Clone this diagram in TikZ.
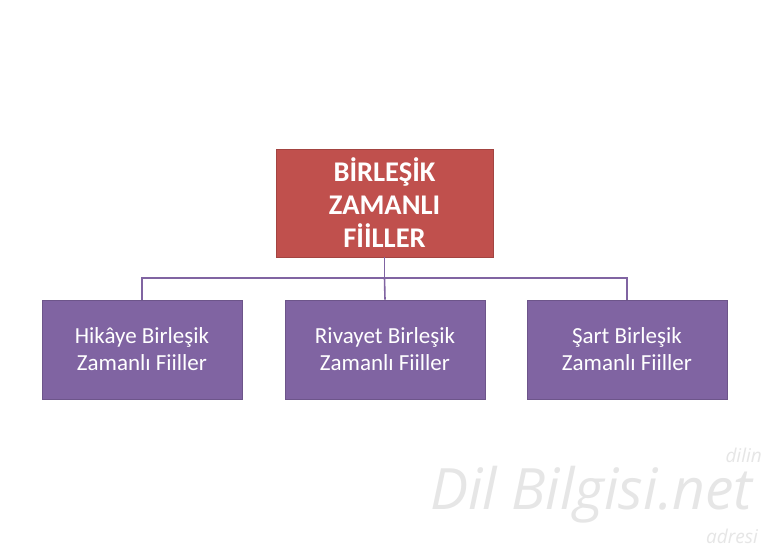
\documentclass[tikz,border=0pt]{standalone}
\usepackage{fontspec}
\setmainfont{Carlito}
\newfontfamily\wmfont{Open Sans}
\definecolor{topred}{HTML}{C0504D}
\definecolor{subpurple}{HTML}{8064A2}
\definecolor{wmgray}{HTML}{E6E6E6}
\begin{document}
\begin{tikzpicture}[x=1pt,y=-1pt,
  topbox/.style={fill=topred,draw=topred!85!black,line width=0.6pt,minimum width=217pt,minimum height=108pt,
    text=white,font=\fontsize{28.5}{33}\selectfont\bfseries,align=center,inner sep=0pt},
  subbox/.style={fill=subpurple,draw=subpurple!85!black,line width=0.6pt,minimum width=200pt,minimum height=99pt,
    text=white,font=\fontsize{23}{27}\selectfont,align=center,inner sep=0pt},
  conn/.style={draw=subpurple,line width=1.6pt},
  wm/.style={text=wmgray,inner sep=0pt}]
\useasboundingbox (0,0) rectangle (770,550);
\fill[white] (0,0) rectangle (770,550);
\node[topbox] (top) at (384.5,203) {BİRLEŞİK\\ZAMANLI\\FİİLLER};
\node[subbox] (a) at (142,349.5) {Hikâye Birleşik\\Zamanlı Fiiller};
\node[subbox] (b) at (385,349.5) {Rivayet Birleşik\\Zamanlı Fiiller};
\node[subbox] (c) at (627,349.5) {Şart Birleşik\\Zamanlı Fiiller};
\coordinate (mid) at (384.5,278);
\draw[conn] (top.south) -- (mid);
\draw[conn] (a.north) -- (a.north |- mid) -- (c.north |- mid) -- (c.north);
\draw[conn] (mid) -- (b.north);
\node[wm,anchor=base west,font=\wmfont\itshape\fontsize{57}{59}\selectfont] (wm1) at (430,509) {Dil Bilgisi};
\node[wm,anchor=base west,font=\wmfont\itshape\fontsize{57}{59}\selectfont] (wm1b) at (wm1.base east) {.net};
\node[wm,anchor=base east,font=\wmfont\itshape\fontsize{19}{21}\selectfont] (wm2) at (762,462) {dilin};
\node[wm,anchor=base east,font=\wmfont\itshape\fontsize{19}{21}\selectfont] (wm3) at (758,543) {adresi};
\end{tikzpicture}
\end{document}
